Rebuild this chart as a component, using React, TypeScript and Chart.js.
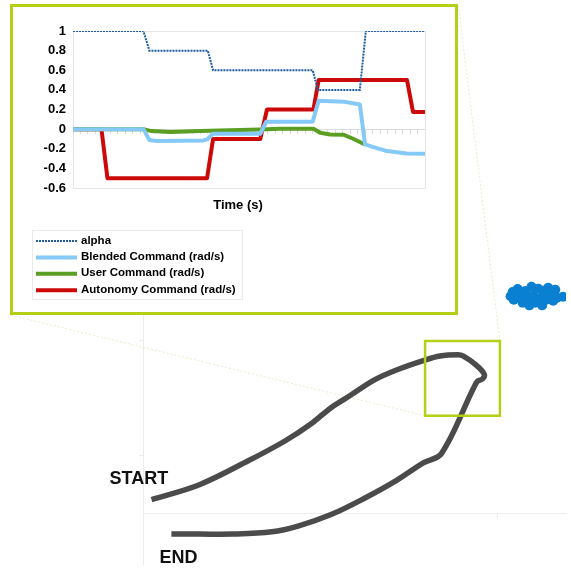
import React, { useEffect, useRef } from "react";
import { Chart, registerables } from "chart.js";

Chart.register(...registerables);

const FONT = '"Liberation Sans", Arial, Helvetica, sans-serif';
Chart.defaults.font.family = FONT;

// ---- Shared-control log (time in seconds) ----
const seriesLabels = [
  "alpha",
  "Blended Command (rad/s)",
  "User Command (rad/s)",
  "Autonomy Command (rad/s)",
];

const alphaTime = [0, 9.4, 10.2, 18.0, 18.7, 32.0, 32.7, 38.3, 39.1, 47];
const alphaValue = [1, 1, 0.8, 0.8, 0.6, 0.6, 0.4, 0.4, 1, 1];

const blendedTime = [0, 9.4, 10.2, 11.2, 17.4, 17.9, 18.7, 25.0, 25.8, 32.0, 32.8, 36.1, 38.3, 39.0, 40.0, 41.7, 44.5, 47];
const blendedValue = [0, 0, -0.11, -0.12, -0.115, -0.105, -0.047, -0.047, 0.075, 0.075, 0.29, 0.28, 0.25, -0.156, -0.18, -0.22, -0.248, -0.25];

const userTime = [0, 9.4, 10.5, 13.0, 17.0, 19.6, 25.0, 27.6, 32.1, 33.0, 34.3, 36.1, 37.4, 39.0];
const userValue = [0, 0, -0.02, -0.03, -0.02, -0.013, -0.003, 0.005, 0.004, -0.037, -0.054, -0.057, -0.098, -0.156];

const autonomyTime = [0, 3.8, 4.6, 17.9, 18.7, 25.0, 25.9, 32.1, 32.8, 44.6, 45.4, 47];
const autonomyValue = [0, 0, -0.5, -0.5, -0.1, -0.1, 0.2, 0.2, 0.5, 0.5, 0.175, 0.175];

const timeRange = [0, 47];
const commandRange = [-0.6, 1];
const commandStep = 0.2;

// ---- Robot path and obstacle (metres) ----
const pathX = [0.24, 1.59, 2.98, 4.0, 4.74, 5.3, 5.86, 6.51, 7.16, 7.9, 8.37, 8.88, 9.02, 9.39, 9.62, 9.57, 9.43, 9.3, 8.41, 7.9, 7.16, 6.23, 5.3, 4.37, 3.63, 2.52, 1.59, 0.8];
const pathY = [-0.38, -0.25, -0.04, 0.13, 0.28, 0.42, 0.53, 0.66, 0.75, 0.83, 0.87, 0.88, 0.87, 0.79, 0.71, 0.67, 0.65, 0.58, 0.02, -0.06, -0.21, -0.37, -0.51, -0.61, -0.66, -0.68, -0.68, -0.68];

const obstacleX = [10.42, 10.45, 10.56, 10.61, 10.7, 10.78, 10.86, 10.95, 11.0, 11.06, 11.14, 11.23, 11.28, 11.36, 11.42, 11.5, 11.56, 11.62, 11.67, 10.89, 11.25, 11.84, 10.36, 10.5];
const obstacleY = [1.427, 1.359, 1.453, 1.385, 1.333, 1.436, 1.376, 1.472, 1.393, 1.333, 1.454, 1.376, 1.437, 1.359, 1.463, 1.393, 1.35, 1.446, 1.376, 1.31, 1.31, 1.385, 1.39, 1.42];

// region of the path shown in the detail plot
const detailX = [7.95, 10.06];
const detailY = [0.35, 1.0];

const mapRangeX = [0, 11.922];
const mapRangeY = [-0.94, 3.923];

const ACCENT = "#b5cf17";
const INSET = { left: 10, top: 4, width: 448, height: 311, border: 3 };

const toPoints = (xs: number[], ys: number[]) => xs.map((x, i) => ({ x, y: ys[i] }));

// light frame around the plotting area
const plotFrame = {
  id: "plotFrame",
  beforeDatasetsDraw(chart: any) {
    const { ctx, chartArea: a } = chart;
    ctx.save();
    ctx.strokeStyle = "#e6e6e6";
    ctx.lineWidth = 1;
    ctx.strokeRect(Math.round(a.left) + 0.5, Math.round(a.top) + 0.5, Math.round(a.width), Math.round(a.height));
    ctx.restore();
  },
};

// one-column legend with a thin border, under the axis title
const LEGEND_SPACE = 82;
const boxedLegend = {
  id: "boxedLegend",
  afterDraw(chart: any) {
    const { ctx } = chart;
    const left = 19;
    const top = chart.height - LEGEND_SPACE + 0.5;
    const sampleLen = 41;
    const textX = left + sampleLen + 8;
    ctx.save();
    ctx.font = `bold 11.5px ${FONT}`;
    const widest = Math.max(...chart.data.datasets.map((d: any) => ctx.measureText(d.label).width));
    ctx.strokeStyle = "#ebebeb";
    ctx.lineWidth = 1;
    ctx.strokeRect(left + 0.5, top, Math.round(textX + widest + 6 - left), 69);
    chart.data.datasets.forEach((ds: any, i: number) => {
      const y = top + 10.5 + i * 16.4;
      ctx.beginPath();
      ctx.strokeStyle = ds.borderColor;
      ctx.lineWidth = ds.borderWidth;
      ctx.setLineDash(ds.borderDash || []);
      ctx.moveTo(left + 4, y);
      ctx.lineTo(left + 4 + sampleLen, y);
      ctx.stroke();
      ctx.setLineDash([]);
      ctx.fillStyle = "#000";
      ctx.textBaseline = "middle";
      ctx.textAlign = "left";
      ctx.fillText(ds.label, textX, y - 0.5);
    });
    ctx.restore();
  },
};

// detail rectangle on the path and its guide lines to the detail plot
const detailRegion = {
  id: "detailRegion",
  beforeDatasetsDraw(chart: any) {
    const { ctx, scales } = chart;
    const l = scales.x.getPixelForValue(detailX[0]);
    const r = scales.x.getPixelForValue(detailX[1]);
    const t = scales.y.getPixelForValue(detailY[1]);
    const b = scales.y.getPixelForValue(detailY[0]);
    ctx.save();
    ctx.strokeStyle = "#e8eccb";
    ctx.lineWidth = 1;
    ctx.setLineDash([2, 2]);
    ctx.beginPath();
    ctx.moveTo(l, b);
    ctx.lineTo(INSET.left, INSET.top + INSET.height);
    ctx.moveTo(r, t);
    ctx.lineTo(INSET.left + INSET.width, INSET.top);
    ctx.stroke();
    ctx.restore();
  },
  afterDatasetsDraw(chart: any) {
    const { ctx, scales } = chart;
    const l = scales.x.getPixelForValue(detailX[0]);
    const r = scales.x.getPixelForValue(detailX[1]);
    const t = scales.y.getPixelForValue(detailY[1]);
    const b = scales.y.getPixelForValue(detailY[0]);
    ctx.save();
    ctx.strokeStyle = ACCENT;
    ctx.lineWidth = 2.5;
    ctx.strokeRect(l, t, r - l, b - t);
    ctx.restore();
  },
};

// START / END captions beside the ends of the path
const pathEnds = {
  id: "pathEnds",
  afterDatasetsDraw(chart: any) {
    const { ctx, scales } = chart;
    const n = pathX.length - 1;
    const sx = scales.x.getPixelForValue(pathX[0]);
    const sy = scales.y.getPixelForValue(pathY[0]);
    const ex = scales.x.getPixelForValue(pathX[n]);
    const ey = scales.y.getPixelForValue(pathY[n]);
    ctx.save();
    ctx.font = `bold 18px ${FONT}`;
    ctx.fillStyle = "#111";
    ctx.textBaseline = "alphabetic";
    ctx.textAlign = "left";
    ctx.fillText("START", sx - 42, sy - 16);
    ctx.fillText("END", ex - 12, ey + 28.5);
    ctx.restore();
  },
};

export default function App() {
  const mapRef = useRef<HTMLCanvasElement | null>(null);
  const plotRef = useRef<HTMLCanvasElement | null>(null);

  useEffect(() => {
    const faint = "#ececec";
    const map = new Chart(mapRef.current as HTMLCanvasElement, {
      type: "scatter",
      data: {
        datasets: [
          {
            label: "path",
            data: toPoints(pathX, pathY),
            showLine: true,
            borderColor: "#4b4b4b",
            borderWidth: 5.5,
            borderJoinStyle: "round",
            pointRadius: 0,
            tension: 0.35,
          },
          {
            label: "obstacle",
            data: toPoints(obstacleX, obstacleY),
            showLine: false,
            pointRadius: 5,
            backgroundColor: "#0b80d3",
            borderWidth: 0,
          },
        ],
      } as any,
      options: {
        animation: false,
        responsive: false,
        events: [],
        layout: { padding: { left: 143, top: 0, right: 0, bottom: 0 } },
        scales: {
          x: {
            type: "linear",
            min: mapRangeX[0],
            max: mapRangeX[1],
            position: { y: -0.5 } as any,
            ticks: { display: false, stepSize: 10, includeBounds: false, maxTicksLimit: 100 },
            grid: { drawOnChartArea: false, drawTicks: true, tickLength: 5, color: faint },
            border: { color: faint },
          },
          y: {
            type: "linear",
            min: mapRangeY[0],
            max: mapRangeY[1],
            position: { x: 0 } as any,
            ticks: { display: false, stepSize: 1, includeBounds: false, maxTicksLimit: 100 },
            grid: { drawOnChartArea: false, drawTicks: true, tickLength: 4, color: faint },
            border: { color: faint },
          },
        },
        plugins: { legend: { display: false }, tooltip: { enabled: false } },
      } as any,
      plugins: [detailRegion, pathEnds],
    });

    const plot = new Chart(plotRef.current as HTMLCanvasElement, {
      type: "line",
      data: {
        datasets: [
          {
            label: seriesLabels[0],
            data: toPoints(alphaTime, alphaValue),
            borderColor: "#1f5c9c",
            borderWidth: 2,
            borderDash: [2, 1],
            pointRadius: 0,
            tension: 0,
          },
          {
            label: seriesLabels[1],
            data: toPoints(blendedTime, blendedValue),
            borderColor: "#84c9f8",
            borderWidth: 4,
            borderJoinStyle: "round",
            pointRadius: 0,
            tension: 0,
          },
          {
            label: seriesLabels[2],
            data: toPoints(userTime, userValue),
            borderColor: "#5a9e22",
            borderWidth: 4,
            borderJoinStyle: "round",
            pointRadius: 0,
            tension: 0,
          },
          {
            label: seriesLabels[3],
            data: toPoints(autonomyTime, autonomyValue),
            borderColor: "#cc0a0a",
            borderWidth: 4,
            borderJoinStyle: "round",
            pointRadius: 0,
            tension: 0,
          },
        ],
      } as any,
      options: {
        animation: false,
        responsive: false,
        events: [],
        layout: { padding: { top: 24, left: 18, right: 10, bottom: LEGEND_SPACE } },
        scales: {
          x: {
            type: "linear",
            min: timeRange[0],
            max: timeRange[1],
            position: { y: 0 } as any,
            ticks: { display: false, stepSize: 1, includeBounds: false, maxTicksLimit: 100 },
            grid: { drawOnChartArea: false, drawTicks: true, tickLength: 4, color: "#dadada" },
            border: { color: "#dadada", width: 1 },
          },
          y: {
            type: "linear",
            min: commandRange[0],
            max: commandRange[1],
            ticks: {
              stepSize: commandStep,
              padding: 7,
              color: "#000",
              font: { size: 13, weight: "bold", family: FONT },
              callback: (v: any) => String(Math.round(Number(v) * 10) / 10),
            },
            grid: { display: false, drawTicks: false },
            border: { display: false },
            afterFit: (s: any) => {
              s.width = 42;
            },
          },
          // empty margin on the right of the plot
          yRight: {
            type: "linear",
            position: "right",
            display: true,
            min: commandRange[0],
            max: commandRange[1],
            ticks: { display: false },
            grid: { display: false, drawTicks: false },
            border: { display: false },
            afterFit: (s: any) => {
              s.width = 20;
            },
          },
        },
        plugins: {
          legend: { display: false },
          tooltip: { enabled: false },
          title: {
            display: true,
            text: "Time (s)",
            position: "bottom",
            color: "#000",
            font: { size: 13, weight: "bold", family: FONT },
            padding: { top: 10, bottom: 16.4 },
          },
        },
      } as any,
      plugins: [plotFrame, boxedLegend],
    });

    return () => {
      map.destroy();
      plot.destroy();
    };
  }, []);

  return (
    <div style={{ position: "absolute", left: 0, top: 0, width: 571, height: 569, background: "#fff", overflow: "hidden" }}>
      <canvas ref={mapRef} width={571} height={569} style={{ position: "absolute", left: 0, top: 0 }} />
      <div
        style={{
          position: "absolute",
          left: INSET.left,
          top: INSET.top,
          width: INSET.width,
          height: INSET.height,
          border: `${INSET.border}px solid ${ACCENT}`,
          boxSizing: "border-box",
          background: "#fff",
        }}
      >
        <canvas
          ref={plotRef}
          width={INSET.width - 2 * INSET.border}
          height={INSET.height - 2 * INSET.border}
          style={{ display: "block" }}
        />
      </div>
    </div>
  );
}
